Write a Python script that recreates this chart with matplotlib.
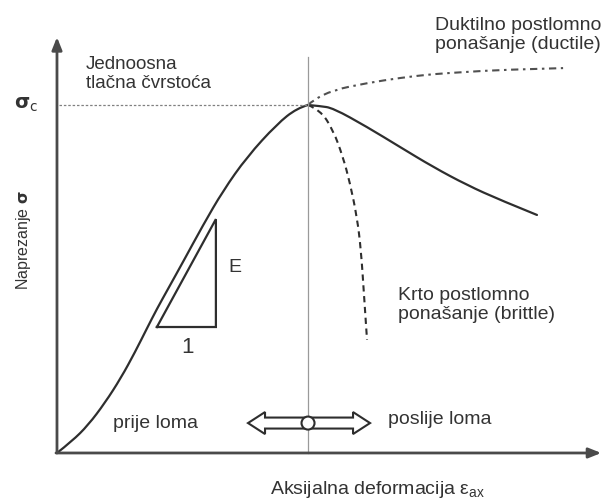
import matplotlib
matplotlib.use("Agg")
import matplotlib.pyplot as plt
from matplotlib.patches import Polygon, Ellipse, PathPatch
from matplotlib.path import Path

plt.rcParams['font.family'] = ['Liberation Sans', 'DejaVu Sans']

# ---- data (normalized: strain / strain at peak, stress / sigma_c) ----
pre_strain = [0.0, 0.060, 0.124, 0.191, 0.255, 0.311, 0.359, 0.398, 0.442, 0.502, 0.582, 0.661,
              0.757, 0.876, 0.956, 1.0]
pre_stress = [0.0, 0.034, 0.080, 0.144, 0.216, 0.290, 0.359, 0.414, 0.471, 0.549, 0.655, 0.753,
              0.851, 0.945, 0.991, 1.0]

post_strain = [1.0, 1.048, 1.100, 1.235, 1.367, 1.498, 1.633, 1.765, 1.912]
post_stress = [1.0, 0.997, 0.991, 0.937, 0.879, 0.822, 0.770, 0.727, 0.684]

brittle_strain = [1.0, 1.048, 1.100, 1.139, 1.167, 1.195, 1.211, 1.223, 1.235]
brittle_stress = [1.0, 0.986, 0.928, 0.851, 0.776, 0.678, 0.583, 0.454, 0.325]

ductile_strain = [1.0, 1.020, 1.100, 1.235, 1.367, 1.498, 1.633, 1.765, 2.016]
ductile_stress = [1.0, 1.014, 1.043, 1.063, 1.078, 1.089, 1.095, 1.101, 1.106]

tri_strain = [0.398, 0.633, 0.633, 0.398]
tri_stress = [0.362, 0.362, 0.672, 0.362]

peak_strain = 1.0
sigma_c = 1.0

# ---- figure ----
fig = plt.figure(figsize=(6.03, 5.04), dpi=100)
ax = fig.add_axes([0, 0, 1, 1])
XL = (-0.227, 2.175)
YL = (-0.1466, 1.3017)
ax.set_xlim(*XL)
ax.set_ylim(*YL)
ax.axis('off')

sx = (XL[1] - XL[0]) / 603.0   # data units per pixel (x)
sy = (YL[1] - YL[0]) / 504.0   # data units per pixel (y)

axis_col = '#4a4a4a'
txt_col = '#333333'
curve_col = '#2e2e2e'


def smooth_curve(xs, ys, **kw):
    pts = list(zip(xs, ys))
    verts = [pts[0]]
    codes = [Path.MOVETO]
    for i in range(1, len(pts) - 1):
        if i < len(pts) - 2:
            mid = ((pts[i][0] + pts[i + 1][0]) / 2, (pts[i][1] + pts[i + 1][1]) / 2)
        else:
            mid = pts[-1]
        verts += [pts[i], mid]
        codes += [Path.CURVE3, Path.CURVE3]
    ax.add_patch(PathPatch(Path(verts, codes), fill=False, **kw))


# axes with arrows
ax.annotate('', xy=(0, 1.195), xytext=(0, 0),
            arrowprops=dict(arrowstyle='-|>,head_length=0.75,head_width=0.3', color=axis_col, lw=2.0,
                            shrinkA=0, shrinkB=0))
ax.annotate('', xy=(2.168, 0), xytext=(-0.004, 0),
            arrowprops=dict(arrowstyle='-|>,head_length=0.75,head_width=0.3', color=axis_col, lw=2.0,
                            shrinkA=0, shrinkB=0))

# sigma_c dotted line and vertical line at peak
ax.plot([0.008, peak_strain], [sigma_c, sigma_c], color='#808080', lw=0.9, ls=(0, (2, 1.5)))
ax.plot([peak_strain, peak_strain], [0, 1.137], color='#9a9a9a', lw=0.9)

# curves
smooth_curve(pre_strain, pre_stress, edgecolor=curve_col, lw=1.6, capstyle='round')
smooth_curve(post_strain, post_stress, edgecolor=curve_col, lw=1.6, capstyle='round')
smooth_curve(brittle_strain, brittle_stress, edgecolor=curve_col, lw=1.5, linestyle=(0, (3.0, 2.2)))
smooth_curve(ductile_strain, ductile_stress, edgecolor='#505050', lw=1.5,
             linestyle=(0, (3.5, 2.2, 1.2, 2.2)))

# triangle
ax.plot(tri_strain, tri_stress, color=curve_col, lw=1.6, solid_joinstyle='miter')

# double arrow
ay = 0.086
xl, xr = 0.761, 1.247
hl = 17 * sx
hh = 11 * sy
sh = 5.5 * sy
pts = [(xl, ay), (xl + hl, ay + hh), (xl + hl, ay + sh), (xr - hl, ay + sh), (xr - hl, ay + hh),
       (xr, ay), (xr - hl, ay - hh), (xr - hl, ay - sh), (xl + hl, ay - sh), (xl + hl, ay - hh)]
ax.add_patch(Polygon(pts, closed=True, facecolor='white', edgecolor=curve_col, lw=1.5, zorder=3))
ax.add_patch(Ellipse((peak_strain, ay), 13 * sx, 13 * sy, facecolor='white', edgecolor=curve_col,
                     lw=1.5, zorder=4))

# texts
fs = 14
ax.text(0.115, 1.089, 'Jednoosna\ntlačna čvrstoća', fontsize=13.5, color=txt_col, va='center',
        ha='left', linespacing=1.22)
ax.text(-0.170, 1.0, r'$\mathbf{\sigma}_\mathrm{c}$', fontsize=fs, color=txt_col, va='center', ha='left')
ax.text(1.506, 1.201, 'Duktilno postlomno\nponašanje (ductile)', fontsize=fs, color=txt_col,
        va='center', ha='left', linespacing=1.2)
ax.text(1.359, 0.425, 'Krto postlomno\nponašanje (brittle)', fontsize=fs, color=txt_col,
        va='center', ha='left', linespacing=1.2)
ax.text(0.681, 0.532, 'E', fontsize=fs, color=txt_col, va='center', ha='left')
ax.text(0.518, 0.302, '1', fontsize=fs + 2, color=txt_col, va='center', ha='center')
ax.text(0.394, 0.086, 'prije loma', fontsize=fs, color=txt_col, va='center', ha='center')
ax.text(1.526, 0.095, 'poslije loma', fontsize=fs, color=txt_col, va='center', ha='center')
ax.text(1.275, -0.106, r'Aksijalna deformacija $\mathregular{\varepsilon_{ax}}$', fontsize=fs,
        color=txt_col, va='center', ha='center')
ax.text(-0.135, 0.612, r'Naprezanje $\mathbf{\sigma}$', fontsize=11.5, color=txt_col, va='center',
        ha='center', rotation=90)

fig.savefig('out.png', dpi=100, facecolor='white')
